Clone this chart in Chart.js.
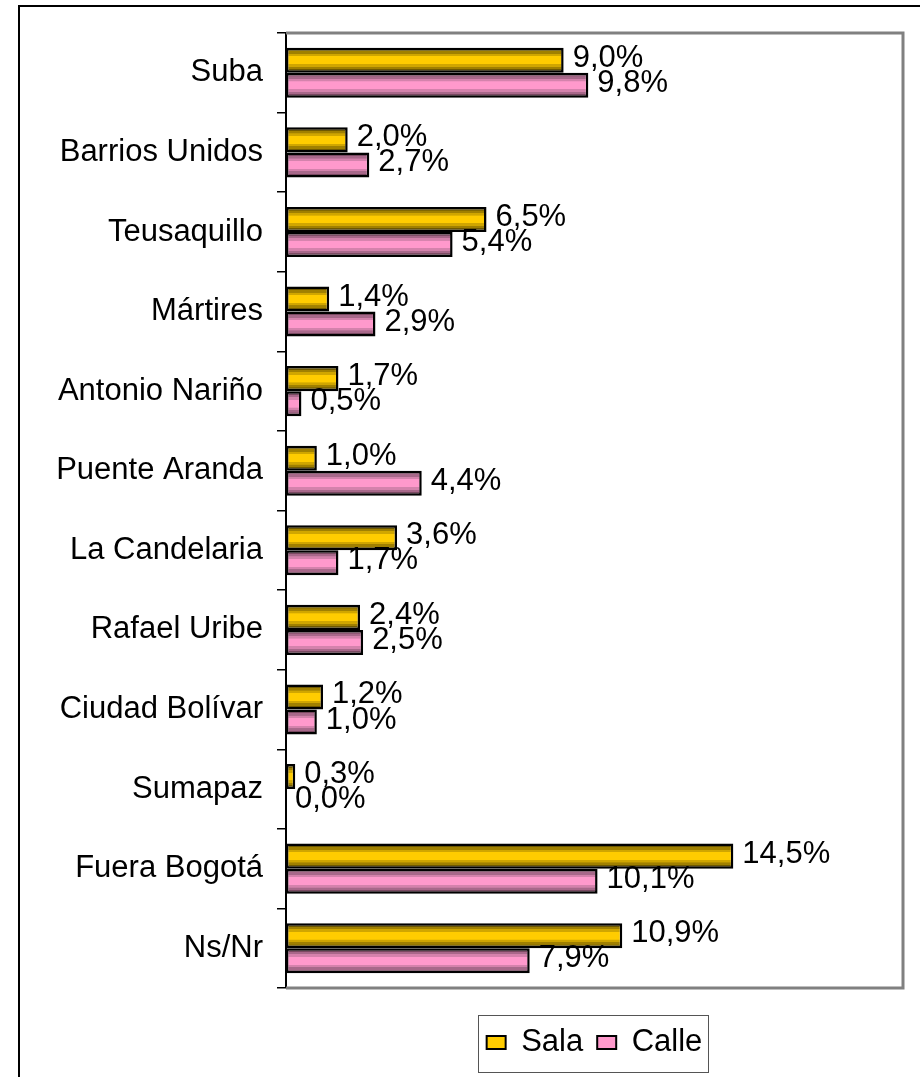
<!DOCTYPE html>
<html>
<head>
<meta charset="utf-8">
<script src="https://cdn.jsdelivr.net/npm/chart.js@4"></script>
<style>
  html, body { margin: 0; padding: 0; background: #fff; }
  #wrap {
    position: absolute; left: 18px; top: 5px;
    width: 902px; height: 1072px;
    border-left: 2px solid #000; border-top: 2px solid #000;
  }
</style>
</head>
<body>
<div id="wrap"><canvas id="chart" width="900" height="1070"></canvas></div>
<script>
const categories = ["Suba", "Barrios Unidos", "Teusaquillo", "Mártires", "Antonio Nariño",
  "Puente Aranda", "La Candelaria", "Rafael Uribe", "Ciudad Bolívar", "Sumapaz",
  "Fuera Bogotá", "Ns/Nr"];
const sala = [9.0, 2.0, 6.5, 1.4, 1.7, 1.0, 3.6, 2.4, 1.2, 0.3, 14.5, 10.9];
const calle = [9.8, 2.7, 5.4, 2.9, 0.5, 4.4, 1.7, 2.5, 1.0, 0.0, 10.1, 7.9];

const CAT_PCT = 0.63;
const FONT = "Liberation Sans, Arial, sans-serif";

// striped look: dark edges, bright middle
const salaStops = ["#6e5800", "#a08000", "#d0a600", "#ffcc00"];
const calleStops = ["#7a4a62", "#a8688a", "#d482ac", "#ff99cc"];

function barFill(c, stops) {
  const chart = c.chart;
  const ya = chart.scales.y;
  if (!ya || c.type !== "data" || !chart.chartArea) return stops[3];
  const center = ya.getPixelForValue(c.dataIndex);
  const band = ya.getPixelForValue(1) - ya.getPixelForValue(0);
  const th = band * CAT_PCT / 2;
  const top = c.datasetIndex === 0 ? center - th : center;
  const g = chart.ctx.createLinearGradient(0, top, 0, top + th);
  g.addColorStop(0.0, stops[0]);
  g.addColorStop(0.14, stops[0]);
  g.addColorStop(0.15, stops[1]);
  g.addColorStop(0.24, stops[1]);
  g.addColorStop(0.25, stops[2]);
  g.addColorStop(0.34, stops[2]);
  g.addColorStop(0.35, stops[3]);
  g.addColorStop(0.65, stops[3]);
  g.addColorStop(0.66, stops[2]);
  g.addColorStop(0.75, stops[2]);
  g.addColorStop(0.76, stops[1]);
  g.addColorStop(0.85, stops[1]);
  g.addColorStop(0.86, stops[0]);
  g.addColorStop(1.0, stops[0]);
  return g;
}

function fmt(v) {
  return v.toFixed(1).replace(".", ",") + "%";
}

// value labels to the right of each bar
const valueLabels = {
  id: "valueLabels",
  afterDatasetsDraw(chart) {
    const ctx = chart.ctx;
    ctx.save();
    ctx.font = "31px " + FONT;
    ctx.fillStyle = "#000";
    ctx.textAlign = "left";
    ctx.textBaseline = "middle";
    chart.data.datasets.forEach((ds, di) => {
      chart.getDatasetMeta(di).data.forEach((bar, i) => {
        ctx.fillText(fmt(ds.data[i]), bar.x + 9, bar.y - 2);
      });
    });
    ctx.restore();
  }
};

// grey frame on top, right and bottom of plot area + box round the legend
const frames = {
  id: "frames",
  beforeDatasetsDraw(chart) {
    const a = chart.chartArea;
    const ctx = chart.ctx;
    ctx.save();
    ctx.strokeStyle = "#808080";
    ctx.lineWidth = 3;
    ctx.beginPath();
    ctx.moveTo(a.left, a.top);
    ctx.lineTo(a.right, a.top);
    ctx.lineTo(a.right, a.bottom);
    ctx.lineTo(a.left, a.bottom);
    ctx.stroke();
    ctx.restore();
  },
  afterDraw(chart) {
    const boxes = chart.legend.legendHitBoxes;
    if (!boxes || !boxes.length) return;
    const ctx = chart.ctx;
    const minX = Math.min(...boxes.map(b => b.left));
    const maxX = Math.max(...boxes.map(b => b.left + b.width));
    const cy = boxes[0].top + boxes[0].height / 2;
    ctx.save();
    ctx.strokeStyle = "#555";
    ctx.lineWidth = 1;
    ctx.strokeRect(Math.round(minX - 9) + 0.5, Math.round(cy - 28) + 0.5,
      Math.round(maxX - minX + 14), 57);
    ctx.restore();
  }
};

new Chart(document.getElementById("chart"), {
  type: "bar",
  data: {
    labels: categories,
    datasets: [
      {
        label: "Sala",
        data: sala,
        backgroundColor: c => barFill(c, salaStops),
        borderColor: "#000",
        borderWidth: 2.5,
        borderSkipped: false
      },
      {
        label: "Calle",
        data: calle,
        backgroundColor: c => barFill(c, calleStops),
        borderColor: "#000",
        borderWidth: 2.5,
        borderSkipped: false
      }
    ]
  },
  options: {
    indexAxis: "y",
    responsive: false,
    animation: false,
    categoryPercentage: CAT_PCT,
    barPercentage: 1.0,
    layout: { padding: { left: 0, right: 17, top: 26, bottom: 9 } },
    scales: {
      x: {
        min: 0, max: 20,
        afterFit(scale) { scale.height = 25; },
        ticks: { display: false },
        grid: { display: false },
        border: { display: false }
      },
      y: {
        afterFit(scale) {
          scale.width = 266;
          scale.paddingTop = 0;
          scale.paddingBottom = 0;
        },
        grid: { drawOnChartArea: false, color: "#000", tickLength: 9, lineWidth: 1.5 },
        border: { color: "#000", width: 2 },
        ticks: { color: "#000", font: { family: FONT, size: 31 }, padding: 14 }
      }
    },
    plugins: {
      legend: {
        position: "bottom",
        fullSize: false,
        labels: {
          font: { family: FONT, size: 31 },
          color: "#000",
          boxWidth: 19,
          boxHeight: 13,
          padding: 14,
          generateLabels() {
            return [
              { text: "Sala", fillStyle: "#ffcc00", strokeStyle: "#000", lineWidth: 2, datasetIndex: 0 },
              { text: "Calle", fillStyle: "#ff99cc", strokeStyle: "#000", lineWidth: 2, datasetIndex: 1 }
            ];
          }
        }
      },
      tooltip: { enabled: false }
    }
  },
  plugins: [valueLabels, frames]
});
</script>
</body>
</html>
